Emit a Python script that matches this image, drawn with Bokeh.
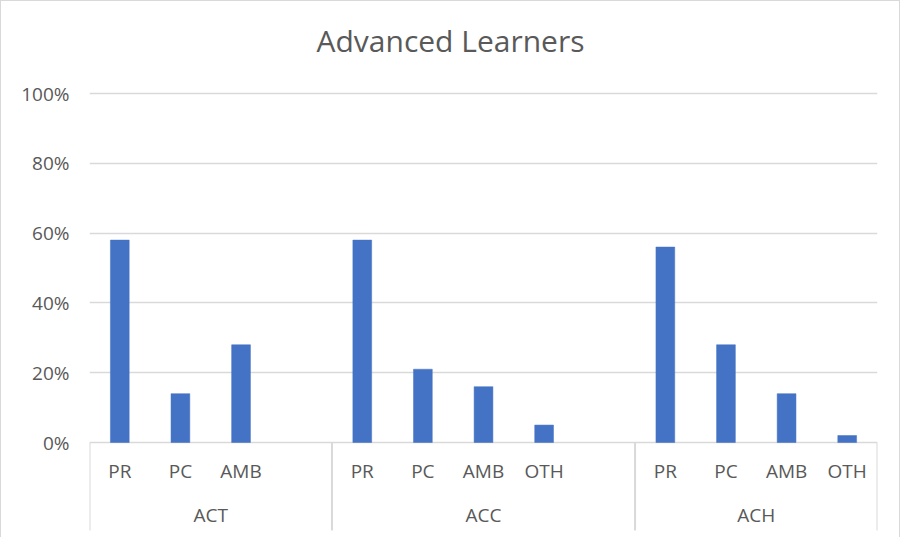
from bokeh.plotting import figure
from bokeh.models import Range1d, FixedTicker, NumeralTickFormatter, ColumnDataSource
from bokeh.embed import file_html
from bokeh.resources import INLINE
from bokeh.core.properties import value

# ---- data ----
groups = ["ACT", "ACC", "ACH"]
act_labels = ["PR", "PC", "AMB", ""]
acc_labels = ["PR", "PC", "AMB", "OTH", ""]
ach_labels = ["PR", "PC", "AMB", "OTH"]
act_values = [0.58, 0.14, 0.28, None]
acc_values = [0.58, 0.21, 0.16, 0.05, None]
ach_values = [0.56, 0.28, 0.14, 0.02]
y_ticks = [0, 0.2, 0.4, 0.6, 0.8, 1.0]

group_labels = [act_labels, acc_labels, ach_labels]
group_values = [act_values, acc_values, ach_values]

# ---- build slot positions from the lists ----
bar_x, bar_top, sub_x, sub_text = [], [], [], []
grp_x, bounds = [], [-0.5]
pos = 0
for labs, vals in zip(group_labels, group_values):
    start = pos
    for lab, v in zip(labs, vals):
        sub_x.append(pos)
        sub_text.append(lab)
        if v is not None:
            bar_x.append(pos)
            bar_top.append(v)
        pos += 1
    grp_x.append((start + pos - 1) / 2)
    bounds.append(pos - 0.5)
n_slots = pos

TXT = "#595959"
GRID = "#d9d9d9"
FONT = "Open Sans"

p = figure(
    width=900, height=537,
    x_range=Range1d(-0.5, n_slots - 0.5),
    y_range=Range1d(-0.27507, 1.06304),
    x_axis_location=None,
    output_backend="svg", toolbar_location=None,
    min_border_left=88, min_border_right=24, min_border_top=70, min_border_bottom=0,
    title="Advanced Learners",
    styles={"border-top": "1px solid #d9d9d9", "border-left": "1px solid #d9d9d9",
            "border-right": "1px solid #d9d9d9"},
)
p.outline_line_color = None
p.background_fill_color = "white"
p.border_fill_color = "white"

p.title.text_font = FONT
p.title.text_font_size = "30px"
p.title.text_font_style = "normal"
p.title.text_color = TXT
p.title.align = "left"
p.title.offset = 227
p.title.standoff = 22

p.yaxis.ticker = FixedTicker(ticks=y_ticks)
p.yaxis.formatter = NumeralTickFormatter(format="0%")
p.yaxis.axis_line_color = None
p.yaxis.major_tick_line_color = None
p.yaxis.minor_tick_line_color = None
p.yaxis.major_tick_out = 0
p.yaxis.major_tick_in = 0
p.yaxis.major_label_standoff = 20
p.yaxis.major_label_text_font = FONT
p.yaxis.major_label_text_font_size = "19px"
p.yaxis.major_label_text_color = TXT

p.ygrid.ticker = FixedTicker(ticks=y_ticks)
p.ygrid.grid_line_color = GRID
p.ygrid.grid_line_width = 1.5
p.xgrid.visible = False

src = ColumnDataSource(dict(x=bar_x, top=bar_top))
p.vbar(x="x", top="top", bottom=0, width=0.31, source=src,
       fill_color="#4472C4", line_color="#4472C4", line_width=0.5)

# category separators below the axis
p.segment(x0=bounds, y0=[0] * len(bounds), x1=bounds, y1=[-0.252] * len(bounds),
          line_color=GRID, line_width=2)

# sub-category labels
p.text(x=sub_x, y=[-0.083] * len(sub_x), text=sub_text,
       text_font=value(FONT), text_font_size="19px", text_color=TXT,
       text_align="center", text_baseline="alphabetic")
# group labels
p.text(x=grp_x, y=[-0.209] * len(grp_x), text=groups,
       text_font=value(FONT), text_font_size="19px", text_color=TXT,
       text_align="center", text_baseline="alphabetic")

open("out.html", "w").write(file_html(p, INLINE))
